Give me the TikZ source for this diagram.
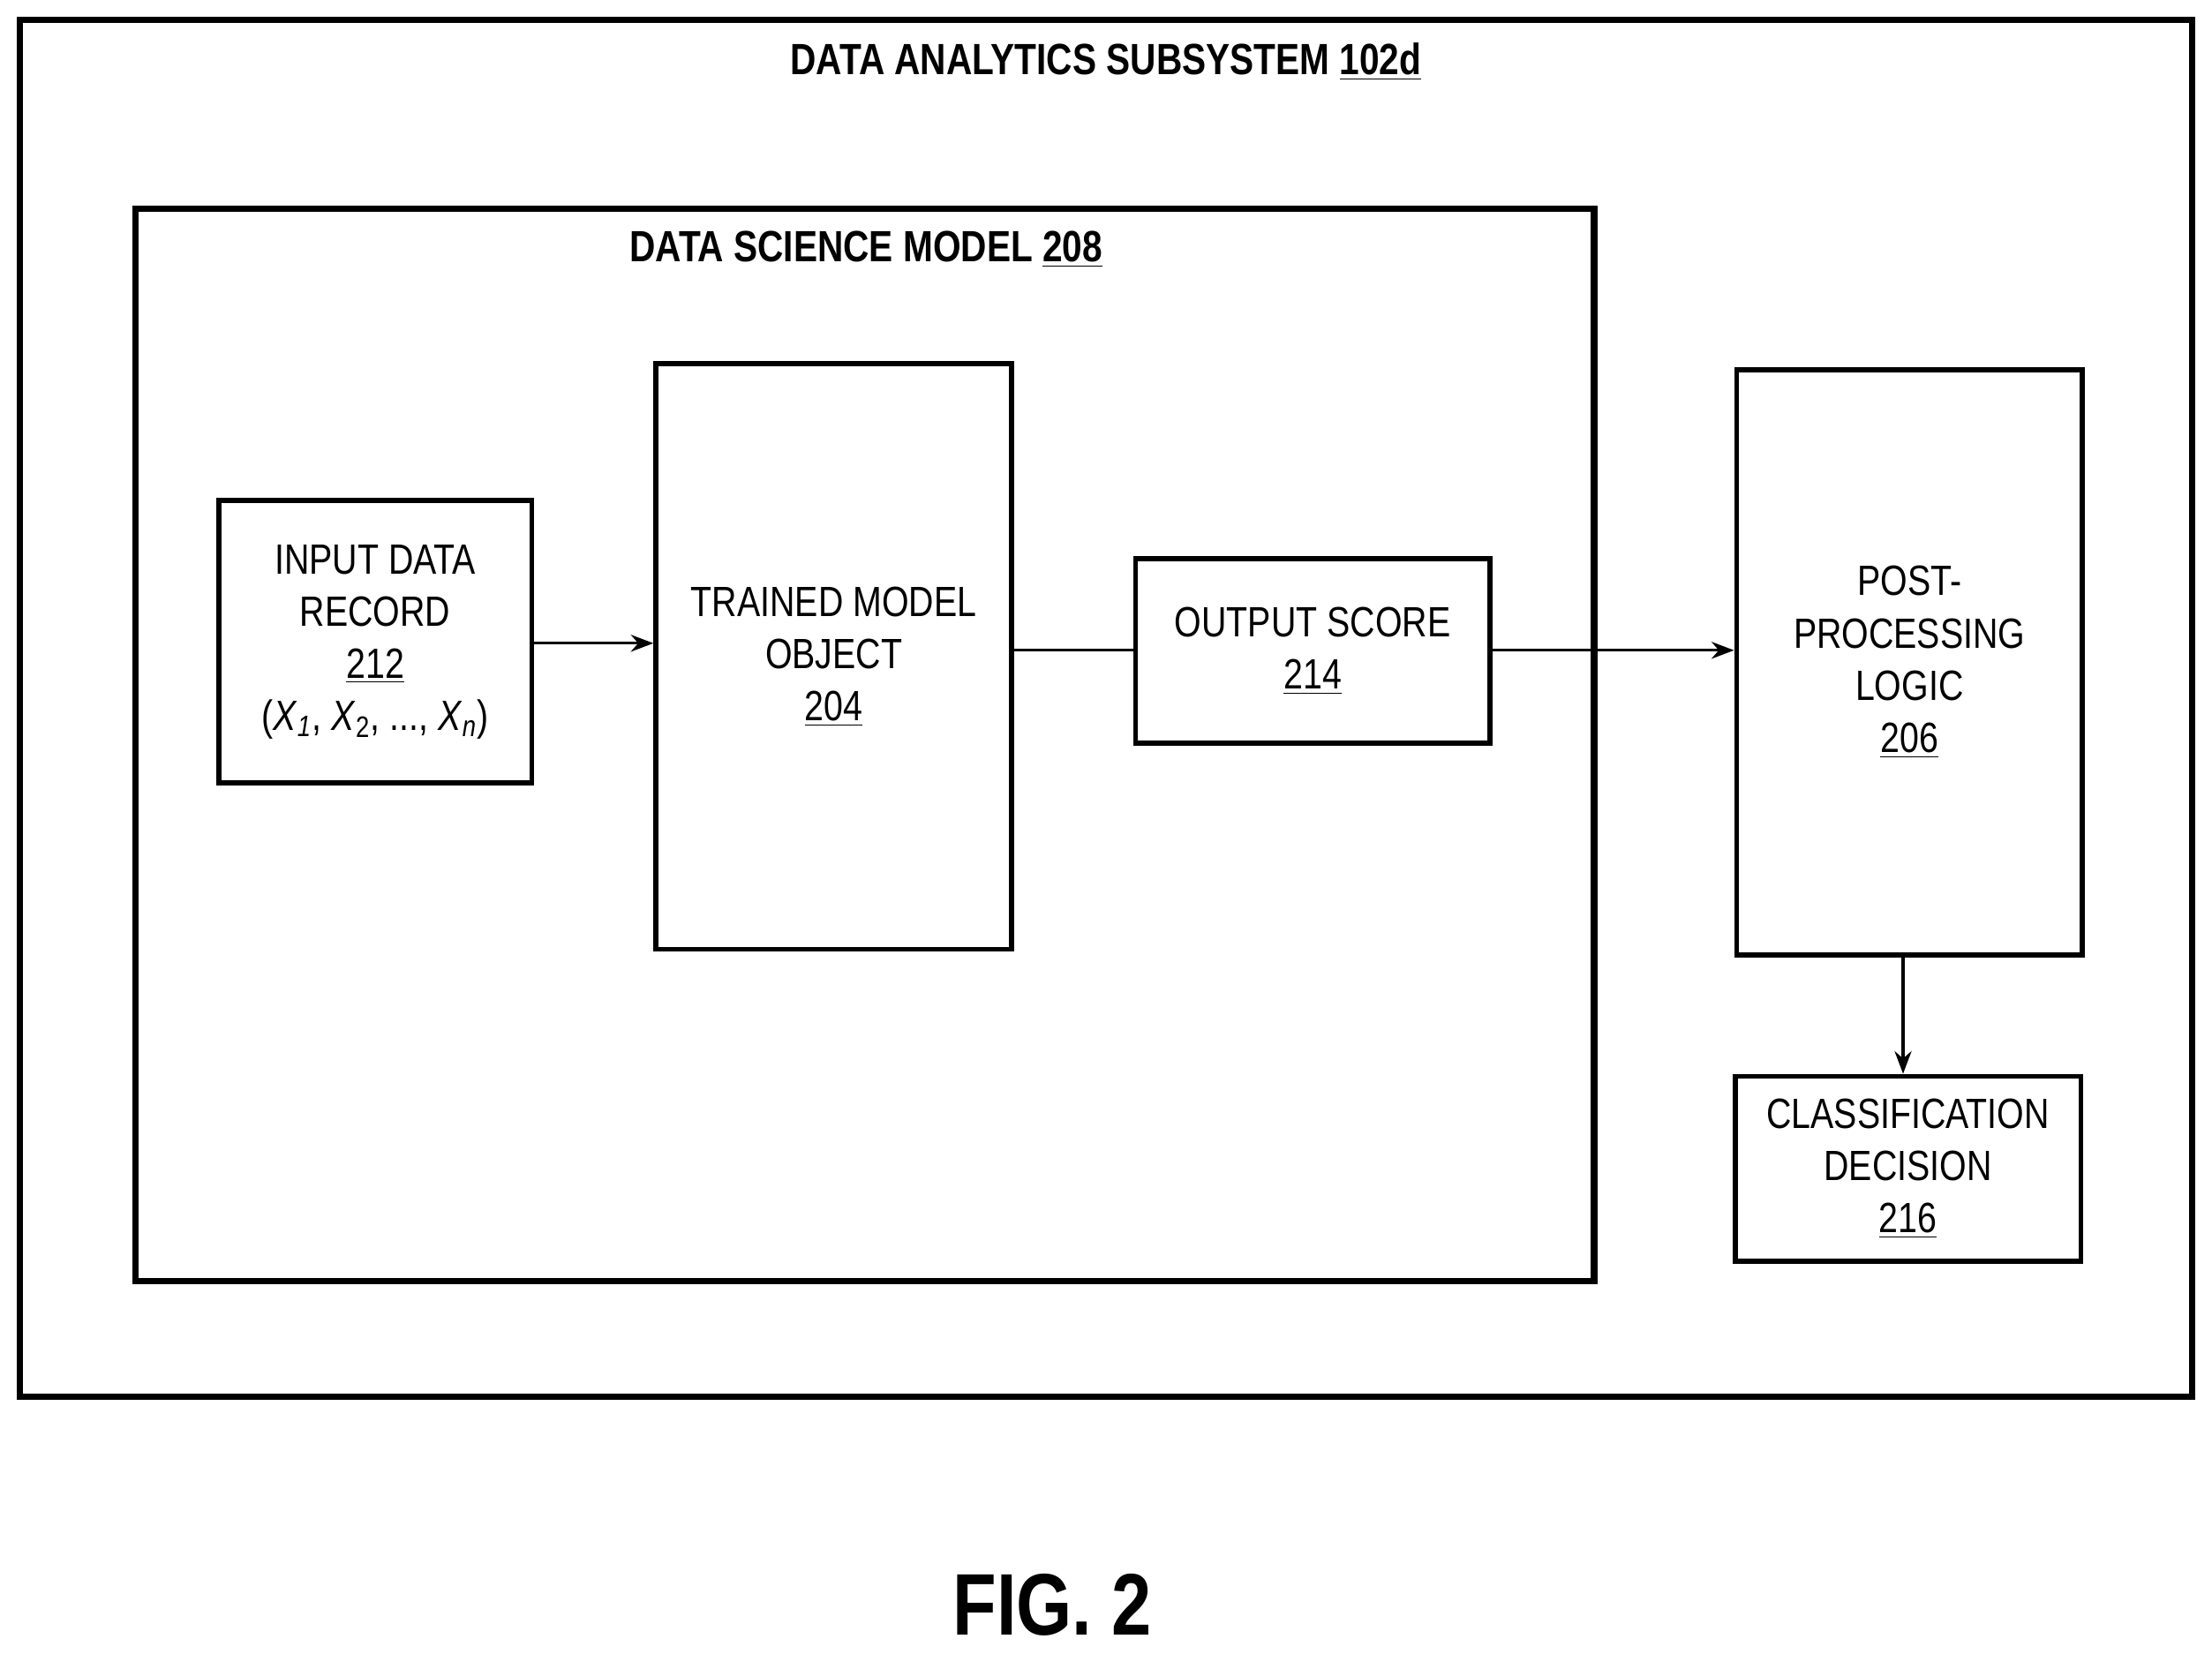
\documentclass[tikz,border=0pt]{standalone}
\usepackage{fontspec}
\setmainfont{Liberation Sans}[FakeStretch=0.82]
\usetikzlibrary{arrows.meta}
\begin{document}
\begin{tikzpicture}[x=0.5pt,y=-0.5pt,
 box/.style={draw,line width=1.8pt,inner sep=0pt,align=center,font=\fontsize{15}{18.5}\selectfont},
 big/.style={draw,line width=2.2pt},
 arr/.style={line width=1pt,-{Stealth[length=8pt,width=6pt]}},
 ttl/.style={font=\bfseries\fontsize{15.5}{18}\selectfont}]
\useasboundingbox (0,0) rectangle (1568,1172);
\node[big,minimum width=770pt,minimum height=488pt] (outer) at (784,502) {};
\node[ttl] (t1) at (784,44) {DATA ANALYTICS SUBSYSTEM \underline{102d}};
\node[big,minimum width=517pt,minimum height=380pt] (dsm) at (613,528) {};
\node[ttl] (t2) at (614,177) {DATA SCIENCE MODEL \underline{208}};
\node[box,minimum width=111pt,minimum height=100pt] (in) at (266,455) {INPUT DATA\\RECORD\\\underline{212}\\(\textit{X}\textsubscript{\textit{1}}, \textit{X}\textsubscript{2}, ..., \textit{X}\textsubscript{\textit{n}})};
\node[box,minimum width=126pt,minimum height=207.5pt] (tm) at (591,465.5) {TRAINED MODEL\\OBJECT\\\underline{204}};
\node[box,minimum width=125.5pt,minimum height=65.5pt] (os) at (930.5,461.5) {OUTPUT SCORE\\\underline{214}};
\node[box,minimum width=122.5pt,minimum height=207.5pt] (pp) at (1353.5,469.5) {POST-\\PROCESSING\\LOGIC\\\underline{206}};
\node[box,minimum width=122.5pt,minimum height=65.5pt] (cd) at (1352.5,828.5) {CLASSIFICATION\\DECISION\\\underline{216}};
\draw[arr] (in.east|-0,456) -- (tm.west|-0,456);
\draw[line width=1pt] (tm.east|-0,461) -- (os.west|-0,461);
\draw[arr] (os.east|-0,461) -- (pp.west|-0,461);
\draw[arr] (1349,0|-pp.south) -- (1349,0|-cd.north);
\node[font=\bfseries\fontsize{31}{36}\selectfont] (fig) at (746,1138) {FIG. 2};
\end{tikzpicture}
\end{document}
